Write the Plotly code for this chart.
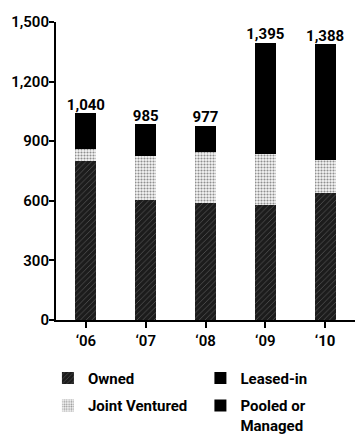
import plotly.graph_objects as go

years = ["‘06", "‘07", "‘08", "‘09", "<b>‘10</b>"]
owned = [800, 605, 587, 578, 637]
joint_ventured = [62, 223, 258, 260, 166]
leased_in = [130, 110, 90, 420, 430]
pooled_managed = [48, 47, 42, 137, 155]
totals = [1040, 985, 977, 1395, 1388]

y_ticks = [0, 300, 600, 900, 1200, 1500]
y_tick_text = ["0", "300", "600", "900", "1,200", "1,500"]

FONT = "Roboto"
BAR_W = 0.35

fig = go.Figure()

fig.add_trace(go.Bar(
    x=years, y=owned, name="Owned", width=BAR_W,
    marker=dict(color="#1c1c1c", line=dict(width=0),
                pattern=dict(shape="/", bgcolor="#1c1c1c", fgcolor="#9a9a9a",
                             size=4, solidity=0.18)),
    legend="legend", legendgroup="a",
))
fig.add_trace(go.Bar(
    x=years, y=joint_ventured, name="Joint Ventured", width=BAR_W,
    marker=dict(color="#ffffff", line=dict(width=0),
                pattern=dict(shape=".", bgcolor="#f4f4f4", fgcolor="#2a2a2a",
                             size=3, solidity=0.4)),
    legend="legend", legendgroup="b",
))
fig.add_trace(go.Bar(
    x=years, y=leased_in, name="Leased-in", width=BAR_W,
    marker=dict(color="#000000", line=dict(width=0)),
    legend="legend2", legendgroup="c",
))
fig.add_trace(go.Bar(
    x=years, y=pooled_managed, name="Pooled or<br>Managed", width=BAR_W,
    marker=dict(color="#000000", line=dict(width=0)),
    legend="legend2", legendgroup="d",
))

# total labels above each stack
fig.add_trace(go.Scatter(
    x=years, y=totals, mode="text",
    text=[f"{v:,}" for v in totals], textposition="top center",
    textfont=dict(family=FONT, size=15, color="#000", weight=700),
    showlegend=False, hoverinfo="skip", cliponaxis=False,
))

legend_common = dict(
    orientation="v", traceorder="grouped", tracegroupgap=5,
    font=dict(family=FONT, size=15, color="#000", weight=700),
    bgcolor="rgba(0,0,0,0)", yanchor="top", xanchor="left",
    valign="top", itemwidth=30,
)

fig.update_layout(
    width=355, height=434,
    margin=dict(l=56, r=0, t=22, b=114, autoexpand=False),
    paper_bgcolor="#ffffff", plot_bgcolor="#ffffff",
    barmode="stack",
    showlegend=True,
    legend=dict(x=-0.027, y=-0.14, **legend_common),
    legend2=dict(x=0.483, y=-0.14, **legend_common),
    xaxis=dict(
        range=[-0.5, 4.5], showline=True, linecolor="#000", linewidth=2,
        ticks="outside", ticklen=6, tickwidth=2, tickcolor="#000",
        tickfont=dict(family=FONT, size=15, color="#000", weight=600),
        showgrid=False, zeroline=False,
    ),
    yaxis=dict(
        range=[0, 1500], tickvals=y_ticks, ticktext=y_tick_text,
        showline=True, linecolor="#000", linewidth=2,
        ticks="outside", ticklen=5, tickwidth=2, tickcolor="#000",
        ticklabelstandoff=-3,
        tickfont=dict(family=FONT, size=15, color="#000", weight=600),
        showgrid=False, zeroline=False,
    ),
)

fig.write_html("out.html")
